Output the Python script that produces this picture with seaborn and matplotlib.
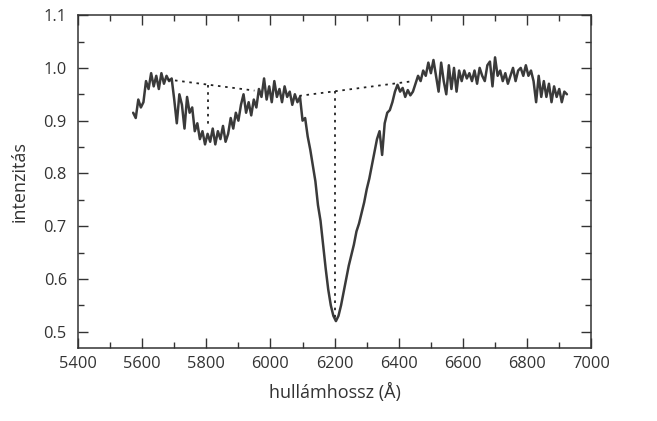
import matplotlib
matplotlib.use("Agg")
import matplotlib.pyplot as plt
import seaborn as sns
import pandas as pd
from matplotlib.ticker import MultipleLocator

# wavelength (Angstrom) and relative intensity
wavelength = [
    5572, 5580, 5588, 5596, 5604, 5612, 5620, 5628, 5636, 5644, 5652, 5660,
    5668, 5676, 5684, 5692, 5700, 5708, 5716, 5724, 5732, 5740, 5748, 5756,
    5764, 5772, 5780, 5788, 5796, 5804, 5812, 5820, 5828, 5836, 5844, 5852,
    5860, 5868, 5876, 5884, 5892, 5900, 5908, 5916, 5924, 5932, 5940, 5948,
    5956, 5964, 5972, 5980, 5988, 5996, 6004, 6012, 6020, 6028, 6036, 6044,
    6052, 6060, 6068, 6076, 6084, 6092, 6100, 6108, 6116, 6124, 6132, 6140,
    6148, 6156, 6164, 6172, 6180, 6188, 6196, 6204, 6212, 6220, 6228, 6236,
    6244, 6252, 6260, 6268, 6276, 6284, 6292, 6300, 6308, 6316, 6324, 6332,
    6340, 6348, 6356, 6364, 6372, 6380, 6388, 6396, 6404, 6412, 6420, 6428,
    6436, 6444, 6452, 6460, 6468, 6476, 6484, 6492, 6500, 6508, 6516, 6524,
    6532, 6540, 6548, 6556, 6564, 6572, 6580, 6588, 6596, 6604, 6612, 6620,
    6628, 6636, 6644, 6652, 6660, 6668, 6676, 6684, 6692, 6700, 6708, 6716,
    6724, 6732, 6740, 6748, 6756, 6764, 6772, 6780, 6788, 6796, 6804, 6812,
    6820, 6828, 6836, 6844, 6852, 6860, 6868, 6876, 6884, 6892, 6900, 6908,
    6916, 6924,
]
intensity = [
    0.915, 0.905, 0.940, 0.925, 0.935, 0.975, 0.960, 0.990, 0.965, 0.985, 0.960, 0.990,
    0.970, 0.985, 0.975, 0.980, 0.940, 0.895, 0.950, 0.930, 0.885, 0.945, 0.915, 0.925,
    0.880, 0.895, 0.865, 0.880, 0.855, 0.875, 0.860, 0.885, 0.855, 0.880, 0.865, 0.890,
    0.860, 0.875, 0.905, 0.885, 0.915, 0.900, 0.930, 0.950, 0.915, 0.935, 0.910, 0.940,
    0.925, 0.960, 0.945, 0.980, 0.940, 0.965, 0.935, 0.975, 0.945, 0.960, 0.935, 0.965,
    0.945, 0.955, 0.930, 0.950, 0.935, 0.945, 0.900, 0.905, 0.870, 0.845, 0.815, 0.785,
    0.740, 0.710, 0.665, 0.620, 0.580, 0.550, 0.530, 0.520, 0.530, 0.550, 0.575, 0.600,
    0.625, 0.645, 0.665, 0.690, 0.705, 0.725, 0.745, 0.770, 0.790, 0.815, 0.840, 0.865,
    0.880, 0.835, 0.895, 0.915, 0.920, 0.935, 0.955, 0.968, 0.955, 0.962, 0.945, 0.958,
    0.948, 0.955, 0.970, 0.985, 0.975, 0.995, 0.985, 1.010, 0.990, 1.015, 0.985, 0.955,
    1.010, 0.975, 0.950, 1.005, 0.960, 1.000, 0.955, 0.995, 0.975, 0.995, 0.980, 0.990,
    0.975, 0.995, 0.970, 1.000, 0.985, 0.975, 1.005, 1.012, 0.965, 1.020, 0.985, 0.995,
    0.975, 0.990, 0.970, 0.985, 1.000, 0.975, 0.995, 1.000, 0.985, 1.005, 0.985, 0.995,
    0.975, 0.935, 0.985, 0.945, 0.975, 0.945, 0.970, 0.935, 0.965, 0.945, 0.960, 0.935,
    0.955, 0.950,
]

# dotted continuum lines and depth markers
cont1_wl = [5680, 5950]
cont1_int = [0.978, 0.957]
cont2_wl = [6090, 6446]
cont2_int = [0.947, 0.975]
depth1_wl = [5806, 5806]
depth1_int = [0.968, 0.886]
depth2_wl = [6200, 6200]
depth2_int = [0.956, 0.522]

x_ticks = [5400, 5600, 5800, 6000, 6200, 6400, 6600, 6800, 7000]
y_ticks = [0.5, 0.6, 0.7, 0.8, 0.9, 1.0, 1.1]
x_label = "hullámhossz (Å)"
y_label = "intenzitás"

sns.set_theme(style="ticks")
plt.rcParams["font.family"] = ["Open Sans", "DejaVu Sans"]

fig = plt.figure(figsize=(6.57, 4.21), dpi=100)
ax = fig.add_axes([0.1187, 0.1734, 0.7813, 0.7906])

df = pd.DataFrame({"wl": wavelength, "I": intensity})
sns.lineplot(data=df, x="wl", y="I", ax=ax, color="#3a3a3a", linewidth=1.8,
             sort=False, estimator=None)

dot = (0, (1.4, 2.6))
for xs, ys in [(cont1_wl, cont1_int), (cont2_wl, cont2_int),
               (depth1_wl, depth1_int), (depth2_wl, depth2_int)]:
    ax.plot(xs, ys, color="#222222", linewidth=1.3, linestyle=dot)

ax.set_xlim(5400, 7000)
ax.set_ylim(0.469, 1.1)
ax.set_xticks(x_ticks)
ax.set_yticks(y_ticks)
ax.set_yticklabels([f"{v:.1f}" for v in y_ticks])
ax.xaxis.set_minor_locator(MultipleLocator(100))
ax.yaxis.set_minor_locator(MultipleLocator(0.05))
ax.tick_params(which="both", direction="in", top=True, right=True,
               colors="#333333", labelcolor="#333333", labelsize=11.8, width=1.0)
ax.tick_params(which="major", length=7.5)
ax.tick_params(which="minor", length=4)
ax.tick_params(axis="x", pad=6)
ax.tick_params(axis="y", pad=8)
for s in ax.spines.values():
    s.set_visible(True)
    s.set_color("#333333")
    s.set_linewidth(1.1)

ax.set_xlabel(x_label, fontsize=13, color="#333333", labelpad=8)
ax.set_ylabel(y_label, fontsize=13, color="#333333", labelpad=11)

fig.savefig("out.png", dpi=100)
